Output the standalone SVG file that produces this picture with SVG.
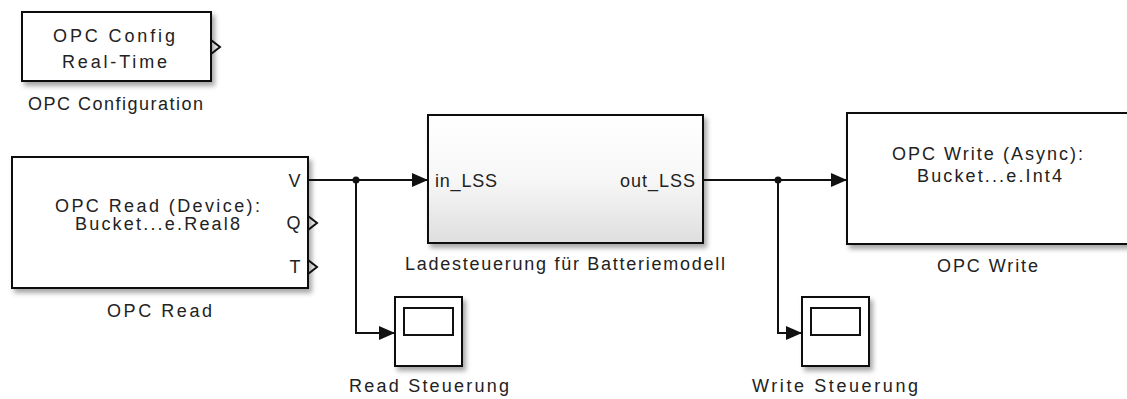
<svg xmlns="http://www.w3.org/2000/svg" width="1127" height="399" viewBox="0 0 1127 399">
<defs>
<style>
text{font-family:"Liberation Sans",Arial,sans-serif;font-size:18px;fill:#222;}
.blk{fill:#fff;stroke:#111;stroke-width:2;filter:url(#sh);}
.port{fill:none;stroke:#111;stroke-width:2;stroke-linejoin:miter;}
.wire{fill:none;stroke:#111;stroke-width:2;}
.inner{fill:#fff;stroke:#111;stroke-width:2;}
</style>
<filter id="sh" x="-10%" y="-10%" width="130%" height="140%">
<feDropShadow dx="3" dy="4" stdDeviation="2.5" flood-color="#000" flood-opacity="0.35"/>
</filter>
<linearGradient id="gr" x1="0" y1="0" x2="0" y2="1">
<stop offset="0" stop-color="#ffffff"/>
<stop offset="0.5" stop-color="#f7f7f7"/>
<stop offset="1" stop-color="#dedede"/>
</linearGradient>
<marker id="ah" markerWidth="16" markerHeight="14" refX="15" refY="7" orient="auto" markerUnits="userSpaceOnUse">
<path d="M0,0 L16,7 L0,14 Z" fill="#111"/>
</marker>
</defs>
<rect width="1127" height="399" fill="#fff"/>

<g id="opc-config">
<rect class="blk" x="22" y="12" width="189" height="69"/>
<path class="port" d="M211,40 L220,47 L211,54"/>
<text x="114" y="42" text-anchor="middle" textLength="122" lengthAdjust="spacing">OPC Config</text>
<text x="114.5" y="68" text-anchor="middle" textLength="105" lengthAdjust="spacing">Real-Time</text>
<text x="115.5" y="110" text-anchor="middle" textLength="175" lengthAdjust="spacing">OPC Configuration</text>
</g>

<g id="opc-read">
<rect class="blk" x="12" y="157" width="296" height="131"/>
<path class="port" d="M308,216 L317,223 L308,230"/>
<path class="port" d="M308,260 L317,267 L308,274"/>
<text x="157.5" y="212" text-anchor="middle" textLength="205" lengthAdjust="spacing">OPC Read (Device):</text>
<text x="157.5" y="230" text-anchor="middle" textLength="165" lengthAdjust="spacing">Bucket...e.Real8</text>
<text x="294.5" y="187" text-anchor="middle">V</text>
<text x="293.5" y="229" text-anchor="middle">Q</text>
<text x="295" y="273" text-anchor="middle">T</text>
<text x="159.5" y="317" text-anchor="middle" textLength="105" lengthAdjust="spacing">OPC Read</text>
</g>

<g id="ladesteuerung">
<rect class="blk" x="428" y="115" width="275" height="128" style="fill:url(#gr)"/>
<text x="435" y="187" textLength="62" lengthAdjust="spacing">in_LSS</text>
<text x="695" y="187" text-anchor="end" textLength="75" lengthAdjust="spacing">out_LSS</text>
<text x="565" y="270" text-anchor="middle" textLength="320" lengthAdjust="spacing">Ladesteuerung für Batteriemodell</text>
</g>

<g id="opc-write">
<rect class="blk" x="847" y="113" width="290" height="131"/>
<text x="987.5" y="160" text-anchor="middle" textLength="191" lengthAdjust="spacing">OPC Write (Async):</text>
<text x="989.5" y="182" text-anchor="middle" textLength="145" lengthAdjust="spacing">Bucket...e.Int4</text>
<text x="987.5" y="272" text-anchor="middle" textLength="101" lengthAdjust="spacing">OPC Write</text>
</g>

<g id="read-steuerung">
<rect class="blk" x="395" y="297" width="67" height="69"/>
<rect class="inner" x="404" y="308" width="49" height="27"/>
<text x="429" y="392" text-anchor="middle" textLength="160" lengthAdjust="spacing">Read Steuerung</text>
</g>

<g id="write-steuerung">
<rect class="blk" x="802" y="297" width="67" height="69"/>
<rect class="inner" x="811" y="308" width="49" height="27"/>
<text x="835" y="392" text-anchor="middle" textLength="166" lengthAdjust="spacing">Write Steuerung</text>
</g>

<g id="connectors">
<path class="wire" d="M308,180 L427,180" marker-end="url(#ah)"/>
<path class="wire" d="M356,180 L356,333 L394,333" marker-end="url(#ah)"/>
<circle cx="356" cy="180" r="3.5" fill="#111"/>
<path class="wire" d="M703,180 L846,180" marker-end="url(#ah)"/>
<path class="wire" d="M778,180 L778,333 L801,333" marker-end="url(#ah)"/>
<circle cx="778" cy="180" r="3.5" fill="#111"/>
</g>
</svg>
